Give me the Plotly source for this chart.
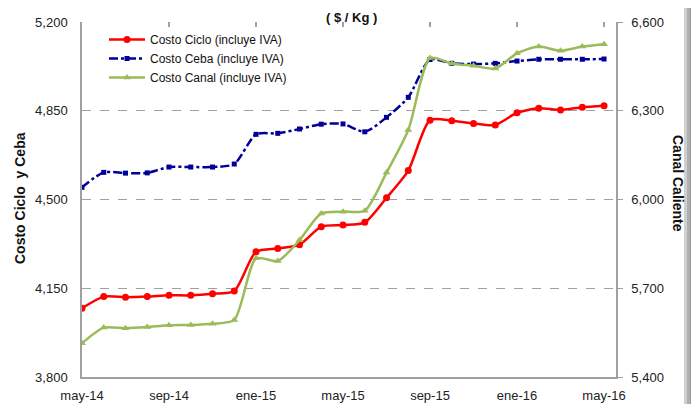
import plotly.graph_objects as go

months = ["may-14","jun-14","jul-14","ago-14","sep-14","oct-14","nov-14","dic-14",
          "ene-15","feb-15","mar-15","abr-15","may-15","jun-15","jul-15","ago-15",
          "sep-15","oct-15","nov-15","dic-15","ene-16","feb-16","mar-16","abr-16","may-16"]

costo_ciclo = [4071,4117,4115,4117,4122,4122,4128,4139,4294,4307,4322,4393,4399,4410,
               4507,4614,4813,4811,4800,4794,4842,4860,4853,4864,4870]
costo_ceba = [4548,4607,4604,4605,4628,4628,4628,4640,4757,4761,4778,4797,4798,4767,
              4824,4903,5052,5037,5034,5037,5046,5053,5053,5053,5054]
costo_canal = [5514,5567,5565,5569,5575,5576,5580,5593,5801,5792,5863,5953,5959,5962,
               6091,6235,6478,6460,6452,6443,6494,6517,6503,6517,6525]

left_ticks = [3800, 4150, 4500, 4850, 5200]
right_ticks = [5400, 5700, 6000, 6300, 6600]
xtick_idx = list(range(0, len(months), 4))

x = list(range(len(months)))
FONT = "Liberation Sans"

fig = go.Figure()
fig.add_trace(go.Scatter(x=x, y=costo_ciclo, name="Costo Ciclo (incluye IVA)",
                         mode="lines+markers",
                         line=dict(color="#FF0000", width=2.5, shape="spline", smoothing=0.7),
                         marker=dict(symbol="circle", size=7, color="#FF0000")))
fig.add_trace(go.Scatter(x=x, y=costo_ceba, name="Costo Ceba (incluye IVA)",
                         mode="lines+markers",
                         line=dict(color="#000099", width=2.5, dash="dashdot", shape="spline", smoothing=0.7),
                         marker=dict(symbol="square", size=5, color="#000099")))
fig.add_trace(go.Scatter(x=x, y=costo_canal, name="Costo Canal (incluye IVA)",
                         mode="lines+markers", yaxis="y2",
                         line=dict(color="#9BBB59", width=2.5, shape="spline", smoothing=0.7),
                         marker=dict(symbol="triangle-up", size=7, color="#9BBB59")))
# invisible trace to anchor top tick axis
fig.add_trace(go.Scatter(x=[0], y=[3800], xaxis="x2", mode="markers",
                         marker=dict(opacity=0), showlegend=False, hoverinfo="skip"))

xr = [0, 24.55]
fig.update_layout(
    width=691, height=396,
    margin=dict(l=74, r=83, t=14, b=27, autoexpand=False),
    paper_bgcolor="white", plot_bgcolor="white",
    font=dict(family=FONT, size=13, color="#222222"),
    showlegend=True,
    legend=dict(x=(104 - 82) / 534, y=(377 - 25) / 355, xanchor="left", yanchor="top",
                bgcolor="rgba(0,0,0,0)", font=dict(size=12, color="#111111"),
                tracegroupgap=0, itemwidth=36),
    xaxis=dict(range=xr, tickvals=xtick_idx, ticktext=[months[i] for i in xtick_idx],
               showgrid=False, zeroline=False, showline=True, linecolor="#A0A0A0",
               linewidth=1.5, ticks="", ticklabelstandoff=6, automargin=False,
               tickfont=dict(size=13, color="#222222")),
    xaxis2=dict(range=xr, overlaying="x", side="top", tickvals=xtick_idx,
                showticklabels=False, ticks="inside", ticklen=5, tickcolor="#A0A0A0",
                tickwidth=1.5,
                showgrid=False, zeroline=False, showline=False, automargin=False),
    yaxis=dict(range=[3800, 5200], tickvals=left_ticks, tickformat=",d",
               showgrid=True, gridcolor="#A0A0A0", griddash="dash", gridwidth=1,
               zeroline=False, showline=True, linecolor="#A0A0A0", linewidth=1.5,
               mirror=True, ticks="", ticklabelstandoff=10, automargin=False,
               tickfont=dict(size=13, color="#222222")),
    yaxis2=dict(range=[5400, 6600], tickvals=right_ticks, tickformat=",d",
                overlaying="y", side="right", showgrid=False, zeroline=False,
                showline=True, linecolor="#A0A0A0", linewidth=1.5, automargin=False,
                ticks="outside", ticklen=5, tickcolor="#A0A0A0", ticklabelstandoff=6,
                tickfont=dict(size=13, color="#222222")),
)

fig.add_annotation(text="<b>( $ / Kg )</b>", xref="paper", yref="paper",
                   x=0.505, y=(377 - 17) / 355, xanchor="center", yanchor="middle",
                   showarrow=False, font=dict(size=13, color="#111111", family=FONT))
fig.add_annotation(text="<b>Costo Ciclo  y Ceba</b>", xref="paper", yref="paper",
                   x=(20 - 82) / 534, y=(377 - 198) / 355, xanchor="center", yanchor="middle",
                   textangle=-90,
                   showarrow=False, font=dict(size=14, color="#111111", family=FONT))
fig.add_annotation(text="<b>Canal Caliente</b>", xref="paper", yref="paper",
                   x=(678 - 82) / 534, y=(377 - 183) / 355, xanchor="center", yanchor="middle",
                   textangle=90,
                   showarrow=False, font=dict(size=14, color="#111111", family=FONT))

# frame: left border line and right shadow
fig.add_shape(type="line", xref="paper", yref="paper", x0=(3 - 82) / 534, x1=(3 - 82) / 534,
              y0=-0.1, y1=1.1, line=dict(color="#9A9A9A", width=1.5))
for i, c in enumerate(["#D0D0D0", "#B0B0B0", "#9C9C9C", "#A8A8A8", "#C4C4C4", "#E0E0E0"]):
    x0 = (684 + i * 2.6 - 82) / 534
    x1 = (684 + (i + 1) * 2.6 - 82) / 534
    fig.add_shape(type="rect", xref="paper", yref="paper", x0=x0, x1=x1, y0=-0.1, y1=1.1,
                  fillcolor=c, line=dict(width=0), layer="above")

fig.write_html("out.html")
